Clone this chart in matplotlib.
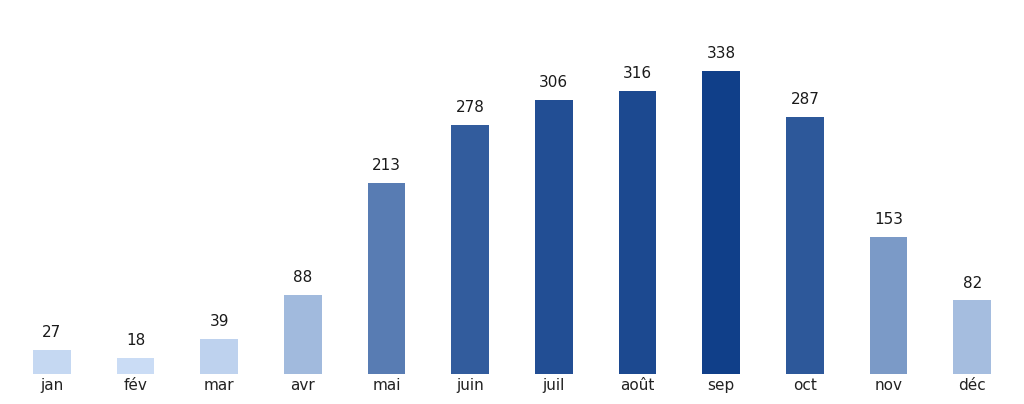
import matplotlib
matplotlib.use("Agg")
import matplotlib.pyplot as plt
from matplotlib.colors import LinearSegmentedColormap, Normalize

# Data
months = ['jan', 'fév', 'mar', 'avr', 'mai', 'juin',
          'juil', 'août', 'sep', 'oct', 'nov', 'déc']
values = [27, 18, 39, 88, 213, 278, 306, 316, 338, 287, 153, 82]

# colour scale from light blue (lowest) to dark blue (highest)
cmap = LinearSegmentedColormap.from_list('blues', ['#cadcf5', '#103f89'])
norm = Normalize(vmin=min(values), vmax=max(values))
colors = [cmap(norm(v)) for v in values]

fig = plt.figure(figsize=(10.24, 4.04), dpi=100)
ax = fig.add_axes([10 / 1024, 30 / 404, 1004 / 1024, 344 / 404])

x = range(len(months))
bars = ax.bar(x, values, width=0.45, color=colors)
ax.bar_label(bars, labels=[str(v) for v in values], padding=7,
             fontsize=11, color='#1a1a1a')

ax.set_xticks(list(x))
ax.set_xticklabels(months, fontsize=11, color='#222222')
ax.tick_params(axis='x', length=0, pad=3)
ax.set_yticks([])
ax.set_xlim(-0.5, len(months) - 0.5)
ax.set_ylim(0, max(values) * 1.135)
for s in ax.spines.values():
    s.set_visible(False)

fig.savefig('out.png', dpi=100)
